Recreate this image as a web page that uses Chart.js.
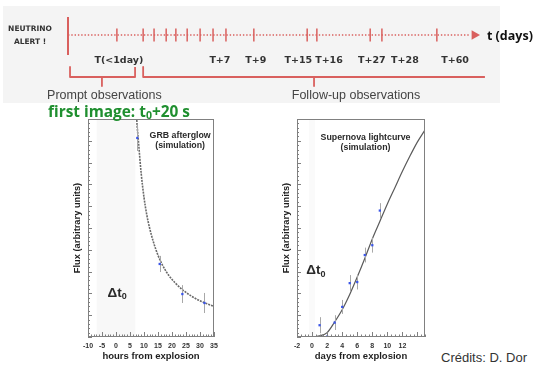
<!DOCTYPE html>
<html lang="fr">
<head>
<meta charset="UTF-8">
<title>Neutrino alert follow-up</title>
<script src="https://cdn.jsdelivr.net/npm/chart.js@4.4.1/dist/chart.umd.min.js"></script>
<style>
*{box-sizing:border-box;margin:0;padding:0}
body{width:534px;height:365px;background:#fff;position:relative;overflow:hidden;font-family:"Liberation Sans",Arial,sans-serif}
#panel{position:absolute;left:3px;top:6px;width:497px;height:97px;background:#f4f4f4}
canvas{position:absolute}
#tl{left:0;top:0}
#grb{left:40px;top:112px}
#sn{left:250px;top:112px}
#first{position:absolute;left:48px;top:104px;font:bold 15.4px "Open Sans",sans-serif;line-height:1;color:#1f8f2f}
#first sub{font-size:10.5px;vertical-align:-2px}
#credits{position:absolute;left:441px;top:351px;font:13px "Liberation Sans",Arial,sans-serif;line-height:1;color:#333}
</style>
</head>
<body>
<div id="panel"></div>
<canvas id="tl" width="534" height="105"></canvas>
<canvas id="grb" width="190" height="253"></canvas>
<canvas id="sn" width="190" height="253"></canvas>
<div id="first">first image: t<sub>0</sub>+20 s</div>
<div id="credits">Crédits: D. Dor</div>
<script>
// ---- timeline (schematic position, 0 = neutrino alert) ----
const alertDotPos = -1.7;
const arrowPos = 100.6;
const tickPos = [12.1, 18.6, 21.3, 24.3, 26.7, 29.5, 32.7, 35.9, 39.1, 46.0, 59.2, 61.6, 74.8, 77.7, 91.3];
const tickLabels = ['T(<1day)', 'T+7', 'T+9', 'T+15', 'T+16', 'T+27', 'T+28', 'T+60'];
const tickLabelPos = [12.6, 37.6, 46.5, 57.0, 64.6, 75.2, 83.4, 95.8];
const promptBracket = [0.5, 8.4, 16.6];   // start, centre, end
const followBracket = [18.6, 60.9, 103.2];
const phaseLabels = ['Prompt observations', 'Follow-up observations'];
const phaseLabelPos = [9.0, 71.3];

// ---- GRB afterglow (simulation) ----
const grbHours = [7.6, 15.6, 23.7, 31.6];
const grbFlux = [91.3, 33.5, 19.7, 15.6];
const grbErr = [6.0, 3.7, 4.1, 4.6];
const grbCurveHours = [7.0, 7.4, 8, 9, 10, 11, 12, 13.5, 15, 17, 19, 21, 24, 27, 30, 33, 35];
const grbCurveFlux = [112, 100, 90, 75, 64, 56, 50, 43, 37.5, 32, 28, 25, 21.4, 18.7, 16.6, 15, 14];
const grbDelay = [-7, 7];

// ---- Supernova lightcurve (simulation) ----
const snDays = [1, 2, 3, 4, 5, 6, 7, 8, 9];
const snFlux = [5.4, 0.2, 6.6, 13.8, 24.7, 25.2, 37.6, 42.1, 58.0];
const snErr = [3.7, 2.0, 3.4, 3.2, 3.7, 3.4, 3.4, 3.4, 3.4];
const snCurveDays = [0.3, 1, 2, 3, 4, 5, 6, 7, 8, 9, 10, 11, 12, 13, 14, 15];
const snCurveFlux = [0, 0.5, 2.0, 6.9, 12.5, 19.5, 27.5, 36, 45, 53, 61, 68.5, 76, 83, 89.5, 95];
const snDelay = [-0.4, 0.4];

Chart.defaults.font.family = '"Liberation Sans", Arial, sans-serif';
Chart.defaults.animation = false;
Chart.defaults.responsive = false;
Chart.defaults.plugins.legend.display = false;
Chart.defaults.plugins.tooltip.enabled = false;

const RED = '#d9605e';

function bracket(b){
  const [s, m, e] = b;
  return [{x:s,y:-1.6},{x:s,y:-2.1},{x:m,y:-2.1},{x:m,y:-2.55},{x:m,y:-2.1},{x:e,y:-2.1},{x:e,y:-1.6}];
}

const timelineText = {
  id: 'timelineText',
  afterDatasetsDraw(chart){
    const {ctx, scales:{x, y}} = chart;
    ctx.save();
    ctx.textAlign = 'center';
    ctx.textBaseline = 'middle';
    ctx.fillStyle = '#333';
    ctx.font = 'bold 7.5px "DejaVu Sans"';
    ctx.fillText('NEUTRINO', x.getPixelForValue(-9.4), y.getPixelForValue(0.3));
    ctx.fillText('ALERT !', x.getPixelForValue(-9.4), y.getPixelForValue(-0.35));
    ctx.font = 'bold 9.5px "DejaVu Sans"';
    tickLabels.forEach((t, i) => ctx.fillText(t, x.getPixelForValue(tickLabelPos[i]), y.getPixelForValue(-1.3)));
    ctx.font = '12.5px "Liberation Sans"';
    ctx.fillStyle = '#444';
    phaseLabels.forEach((t, i) => ctx.fillText(t, x.getPixelForValue(phaseLabelPos[i]), y.getPixelForValue(-3.05)));
    ctx.textAlign = 'left';
    ctx.fillStyle = '#111';
    ctx.font = 'bold 12.5px "Open Sans"';
    ctx.fillText('t (days)', x.getPixelForValue(103.7), y.getPixelForValue(-0.05));
    ctx.restore();
  }
};

new Chart(document.getElementById('tl'), {
  type: 'scatter',
  data: {
    datasets: [
      {data: tickPos.map(p => ({x:p, y:0})), pointStyle:'line', rotation:90, radius:6.5, borderColor:RED, borderWidth:1.5, clip:false},
      {data: [{x:alertDotPos, y:0}], pointStyle:'circle', radius:5, backgroundColor:RED, borderColor:RED, clip:false},
      {data: [{x:arrowPos, y:0}], pointStyle:'triangle', rotation:90, radius:5.6, backgroundColor:RED, borderColor:RED, borderWidth:0, clip:false},
      {data: [{x:0, y:0}, {x:99.5, y:0}], showLine:true, pointRadius:0, borderColor:RED, borderWidth:1.6, borderDash:[1.4,1.9], clip:false},
      {data: [{x:0, y:-1}, {x:0, y:0.9}], showLine:true, pointRadius:0, borderColor:RED, borderWidth:2, clip:false},
      {data: bracket(promptBracket), showLine:true, pointRadius:0, borderColor:RED, borderWidth:1.8, borderJoinStyle:'round', clip:false},
      {data: bracket(followBracket), showLine:true, pointRadius:0, borderColor:RED, borderWidth:1.8, borderJoinStyle:'round', clip:false}
    ]
  },
  options: {
    layout: {padding: {left:68, right:62, top:15, bottom:50}},
    scales: {
      x: {type:'linear', min:0, max:100, display:false},
      y: {min:-1, max:1, display:false}
    }
  },
  plugins: [timelineText]
});

// ROOT-like frame, inward ticks, error bars and captions
const rootStyle = {
  id: 'rootStyle',
  beforeDatasetDraw(chart, args){
    if (args.index !== 0) return;
    const o = chart.options.plugins.rootStyle;
    const {ctx, chartArea:a, scales:{x, y}} = chart;
    ctx.save();
    ctx.beginPath();
    ctx.rect(a.left, a.top, a.right - a.left, a.bottom - a.top);
    ctx.clip();
    ctx.strokeStyle = '#a8a8a8';
    ctx.lineWidth = 1;
    o.xs.forEach((v, i) => {
      const px = Math.round(x.getPixelForValue(v)) + 0.5;
      ctx.beginPath();
      ctx.moveTo(px, y.getPixelForValue(o.ys[i] - o.err[i]));
      ctx.lineTo(px, y.getPixelForValue(o.ys[i] + o.err[i]));
      ctx.stroke();
    });
    ctx.restore();
  },
  afterDatasetsDraw(chart){
    const o = chart.options.plugins.rootStyle;
    const {ctx, chartArea:a, scales:{x, y}} = chart;
    ctx.save();
    ctx.strokeStyle = '#808080';
    ctx.lineWidth = 1;
    ctx.strokeRect(a.left + 0.5, a.top + 0.5, a.right - a.left - 1, a.bottom - a.top - 1);
    ctx.beginPath();
    for (let v = x.min; v <= x.max + 1e-9; v += o.xMinor) {
      const px = Math.round(x.getPixelForValue(v)) + 0.5;
      const major = Math.abs(Math.round(v / o.xMajor) * o.xMajor - v) < 1e-6;
      ctx.moveTo(px, a.bottom);
      ctx.lineTo(px, a.bottom - (major ? 5 : 2.5));
    }
    for (let v = y.min; v <= y.max + 1e-9; v += 2) {
      const py = Math.round(y.getPixelForValue(v)) + 0.5;
      const major = v % 10 === 0;
      ctx.moveTo(a.left, py);
      ctx.lineTo(a.left + (major ? 4 : 2), py);
    }
    ctx.stroke();
    ctx.fillStyle = '#2a2a2a';
    ctx.textAlign = 'center';
    ctx.textBaseline = 'middle';
    ctx.font = 'bold 8.8px "Liberation Sans"';
    o.title.forEach((t, i) => ctx.fillText(t, x.getPixelForValue(o.titleAt[0]), y.getPixelForValue(o.titleAt[1]) + i * 9.5));
    // Δt0 marker with subscript
    const dx = x.getPixelForValue(o.deltaAt[0]);
    const dy = y.getPixelForValue(o.deltaAt[1]);
    ctx.font = 'bold 13.5px "Liberation Sans"';
    const w1 = ctx.measureText('\u0394t').width;
    ctx.font = 'bold 9px "Liberation Sans"';
    const w2 = ctx.measureText('0').width;
    const left = dx - (w1 + w2) / 2;
    ctx.textAlign = 'left';
    ctx.font = 'bold 13.5px "Liberation Sans"';
    ctx.fillText('\u0394t', left, dy);
    ctx.font = 'bold 9px "Liberation Sans"';
    ctx.fillText('0', left + w1, dy + 4);
    ctx.restore();
  }
};

function lightPlot(id, cfg){
  return new Chart(document.getElementById(id), {
    type: 'scatter',
    data: {
      datasets: [
        {data: cfg.xs.map((v, i) => ({x:v, y:cfg.ys[i]})), pointStyle:'rect', radius:1.6, backgroundColor:'#3a55e8', borderColor:'#3a55e8', borderWidth:0},
        {data: cfg.cx.map((v, i) => ({x:v, y:cfg.cy[i]})), showLine:true, pointRadius:0, borderColor:cfg.curveColor, borderWidth:cfg.curveWidth, borderDash:cfg.curveDash, cubicInterpolationMode:'monotone'},
        {data: [{x:cfg.delay[0], y:100}, {x:cfg.delay[1], y:100}], showLine:true, pointRadius:0, fill:'start', backgroundColor:cfg.shade, borderColor:'#666', borderWidth:1.5}
      ]
    },
    options: {
      layout: {padding: {left:0, right:cfg.padRight, top:7, bottom:0}},
      scales: {
        x: {
          type:'linear', min:cfg.xMin, max:cfg.xMax,
          grid:{display:false, drawTicks:false}, border:{display:false},
          afterBuildTicks(s){ s.ticks = s.ticks.filter(t => Math.abs(t.value % cfg.xMajor) < 1e-6); },
          ticks:{stepSize:cfg.xMajor, color:'#333', font:{size:7, weight:'bold'}, padding:5, maxRotation:0, autoSkip:false},
          title:{display:true, text:cfg.xTitle, color:'#1e1e1e', font:{size:9.5, weight:'bold'}, padding:{top:0, bottom:3}},
          afterFit(s){ s.height = 28; }
        },
        y: {
          min:0, max:100,
          grid:{display:false, drawTicks:false}, border:{display:false},
          ticks:{display:false},
          title:{display:true, text:'Flux (arbitrary units)', color:'#1e1e1e', font:{size:9.3, weight:'bold'}, padding:{top:cfg.yTitlePad, bottom:0}},
          afterFit(s){ s.width = cfg.yWidth; }
        }
      },
      plugins: {
        rootStyle: {xs:cfg.xs, ys:cfg.ys, err:cfg.err, xMajor:cfg.xMajor, xMinor:cfg.xMinor, title:cfg.title, titleAt:cfg.titleAt, deltaAt:cfg.deltaAt}
      }
    },
    plugins: [rootStyle]
  });
}

lightPlot('grb', {
  xs:grbHours, ys:grbFlux, err:grbErr, cx:grbCurveHours, cy:grbCurveFlux, delay:grbDelay,
  shade:'#f8f8f8', curveColor:'#6a6a6a', curveWidth:1.6, curveDash:[2,1],
  xMin:-10, xMax:35, xMajor:5, xMinor:1, xTitle:'hours from explosion',
  yWidth:48, yTitlePad:32, padRight:16,
  title:['GRB afterglow', '(simulation)'], titleAt:[22.9, 92.2], deltaAt:[0.4, 20.2]
});

lightPlot('sn', {
  xs:snDays, ys:snFlux, err:snErr, cx:snCurveDays, cy:snCurveFlux, delay:snDelay,
  shade:'#fafafa', curveColor:'#5a5a5a', curveWidth:1.2, curveDash:[],
  xMin:-2, xMax:15, xMajor:2, xMinor:0.5, xTitle:'days from explosion',
  yWidth:47, yTitlePad:31, padRight:15,
  title:['Supernova lightcurve', '(simulation)'], titleAt:[7.1, 91.3], deltaAt:[0.5, 30.7]
});
</script>
</body>
</html>
